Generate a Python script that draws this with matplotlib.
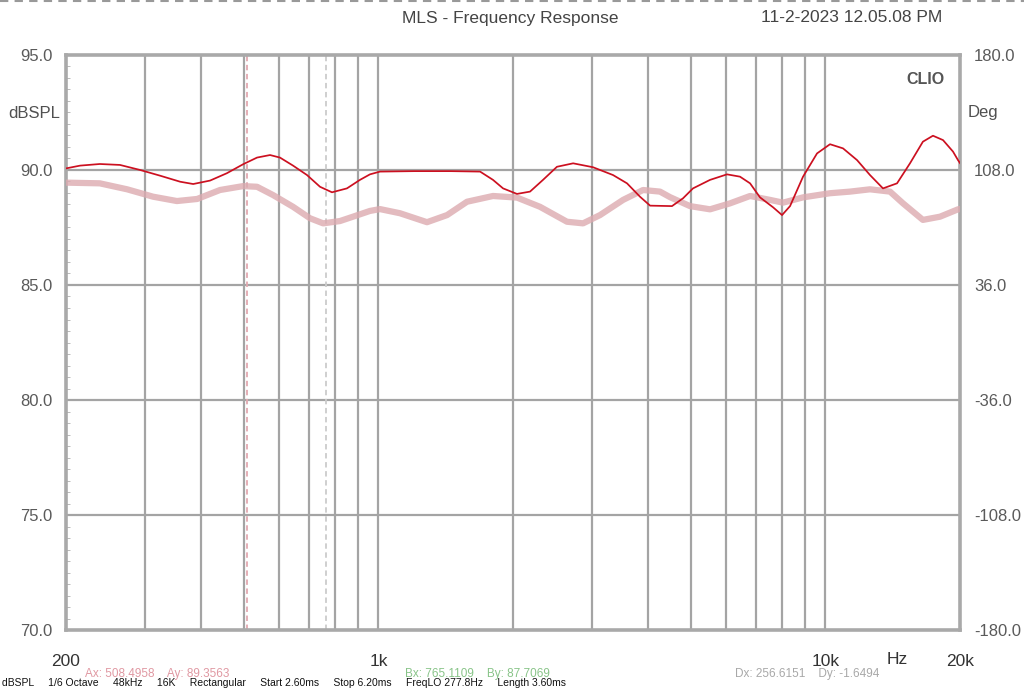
import numpy as np
import matplotlib
matplotlib.use("Agg")
import matplotlib.pyplot as plt

plt.rcParams['font.family'] = ['Liberation Sans', 'DejaVu Sans']

# main response (red)
red_freq = [200, 215, 238, 264, 293, 325, 360, 385, 420, 458,
            498, 535, 572, 602, 644, 692, 740, 787, 850, 909,
            957, 1008, 1200, 1450, 1688, 1804, 1900, 2041, 2183, 2334,
            2508, 2726, 3020, 3348, 3598, 3846, 4052, 4536, 4802, 5054,
            5518, 6022, 6439, 6782, 7138, 7633, 7996, 8333, 8910, 9575,
            10238, 10948, 11768, 12580, 13450, 14460, 15458, 16520, 17400, 18324,
            19292, 19794, 20000]
red_db = [90.07, 90.19, 90.26, 90.22, 90.0, 89.75, 89.49, 89.39, 89.54, 89.86,
          90.25, 90.54, 90.65, 90.54, 90.19, 89.78, 89.27, 89.03, 89.2, 89.57,
          89.81, 89.93, 89.95, 89.95, 89.93, 89.57, 89.2, 88.96, 89.06, 89.57,
          90.14, 90.29, 90.12, 89.78, 89.42, 88.84, 88.45, 88.43, 88.77, 89.2,
          89.57, 89.81, 89.71, 89.42, 88.81, 88.38, 88.04, 88.43, 89.71, 90.72,
          91.12, 90.94, 90.43, 89.78, 89.2, 89.42, 90.29, 91.23, 91.49, 91.3,
          90.8, 90.43, 90.3]

# overlay curve (pink)
pink_freq = [200, 238, 274, 313, 354, 393, 442, 498, 535, 581,
             644, 703, 752, 820, 877, 957, 1008, 1117, 1284, 1424,
             1578, 1804, 2041, 2298, 2641, 2869, 3131, 3526, 3908, 4264,
             4490, 4977, 5518, 6118, 6782, 7516, 8037, 8910, 10238, 11350,
             12580, 13946, 14912, 16520, 18044, 19794, 20000]
pink_db = [89.45, 89.42, 89.16, 88.84, 88.65, 88.74, 89.13, 89.3, 89.27, 88.91,
           88.4, 87.9, 87.68, 87.78, 87.97, 88.22, 88.3, 88.12, 87.73, 88.04,
           88.62, 88.87, 88.8, 88.4, 87.75, 87.68, 88.04, 88.7, 89.13, 89.06,
           88.82, 88.43, 88.29, 88.55, 88.87, 88.7, 88.58, 88.81, 88.99, 89.06,
           89.16, 89.06, 88.55, 87.83, 87.97, 88.29, 88.3]

grid_freq = [300, 400, 500, 600, 700, 800, 900, 1000, 2000, 3000, 4000, 5000,
             6000, 7000, 8000, 9000, 10000]
x_labels = {200: '200', 1000: '1k', 10000: '10k', 20000: '20k'}
left_ticks = [70, 75, 80, 85, 90, 95]
right_ticks = [-180, -108, -36, 36, 108, 180]

cursor_a = 508.4958
cursor_b = 765.1109

fig = plt.figure(figsize=(10.24, 6.89), dpi=100)
ax = fig.add_axes([0.0645, 0.0856, 0.873, 0.8346])

ax.set_xscale('log')
ax.set_xlim(200, 20000)
ax.set_ylim(70, 95)

gcol = '#a4a4a4'
for f in grid_freq:
    ax.axvline(f, color=gcol, lw=1.6, zorder=1)
for y in left_ticks[1:-1]:
    ax.axhline(y, color=gcol, lw=1.6, zorder=1)

ax.axvline(cursor_a, color='#e2a8b0', lw=1.3, ls=(0, (3, 2)), zorder=2)
ax.axvline(cursor_b, color='#cccccc', lw=1.3, ls=(0, (3, 2)), zorder=2)

ax.plot(pink_freq, pink_db, color='#dcaab0', lw=4.5, alpha=0.8,
        solid_capstyle='round', solid_joinstyle='round', zorder=3)
ax.plot(red_freq, red_db, color='#cc1020', lw=1.25,
        solid_joinstyle='round', zorder=4)

ax.set_xticks(list(x_labels.keys()))
ax.set_xticklabels(list(x_labels.values()))
ax.xaxis.set_minor_locator(matplotlib.ticker.NullLocator())
ax.tick_params(axis='x', length=0, pad=17, labelsize=12.5, labelcolor='#333333')

ax.set_yticks(left_ticks)
ax.set_yticklabels(['%.1f' % v for v in left_ticks])
ax.set_yticks(np.arange(70, 95.01, 0.5), minor=True)
ax.tick_params(axis='y', which='major', direction='in', length=0, pad=10,
               labelsize=12, labelcolor='#5a5a5a')
ax.tick_params(axis='y', which='minor', direction='in', length=3, color='#b0b0b0',
               left=True, right=True)

for s in ax.spines.values():
    s.set_color('#a9a9a9')
    s.set_linewidth(2.6)

ax2 = ax.twinx()
ax2.set_ylim(-180, 180)
ax2.set_yticks(right_ticks)
ax2.set_yticklabels(['%.1f' % v for v in right_ticks])
ax2.tick_params(axis='y', length=0, pad=10, labelsize=12, labelcolor='#5a5a5a')
for s in ax2.spines.values():
    s.set_visible(False)

fig.text(8 / 1024, 1 - 113 / 689, 'dBSPL', fontsize=12, color='#505050', va='center')
fig.text(968 / 1024, 1 - 113 / 689, 'Deg', fontsize=12, color='#505050', va='center')
ax.text(0.983, 0.97, 'CLIO', transform=ax.transAxes, fontsize=11.5, color='#555555',
        ha='right', va='top', fontweight='bold')

fig.text(510 / 1024, 1 - 18 / 689, 'MLS - Frequency Response', fontsize=12.5,
         color='#444444', ha='center', va='center')
fig.text(852 / 1024, 1 - 18 / 689, '11-2-2023 12.05.08 PM', fontsize=12.5,
         color='#444444', ha='center', va='center')
fig.text(897 / 1024, 1 - 660 / 689, 'Hz', fontsize=12.5, color='#333333',
         ha='center', va='center')

ry = 1 - 674 / 689
fig.text(85 / 1024, ry, 'Ax: 508.4958    Ay: 89.3563', fontsize=8.5, color='#e098a2', va='center')
fig.text(405 / 1024, ry, 'Bx: 765.1109    By: 87.7069', fontsize=8.5, color='#88c488', va='center')
fig.text(735 / 1024, ry, 'Dx: 256.6151    Dy: -1.6494', fontsize=8.5, color='#a8a8a8', va='center')

# footer line, squeezed in along the bottom edge
fig.text(2 / 1024, 1 / 689, 'dBSPL     1/6 Octave     48kHz     16K     Rectangular     Start 2.60ms'
         '     Stop 6.20ms     FreqLO 277.8Hz     Length 3.60ms',
         fontsize=7.5, color='#111111', va='bottom')

# dashed frame line at the top edge
fig.add_artist(plt.Line2D([0, 1], [0.999, 0.999], transform=fig.transFigure,
                          color='#999999', lw=1.5, ls=(0, (4, 3))))

fig.savefig('out.png', dpi=100)
